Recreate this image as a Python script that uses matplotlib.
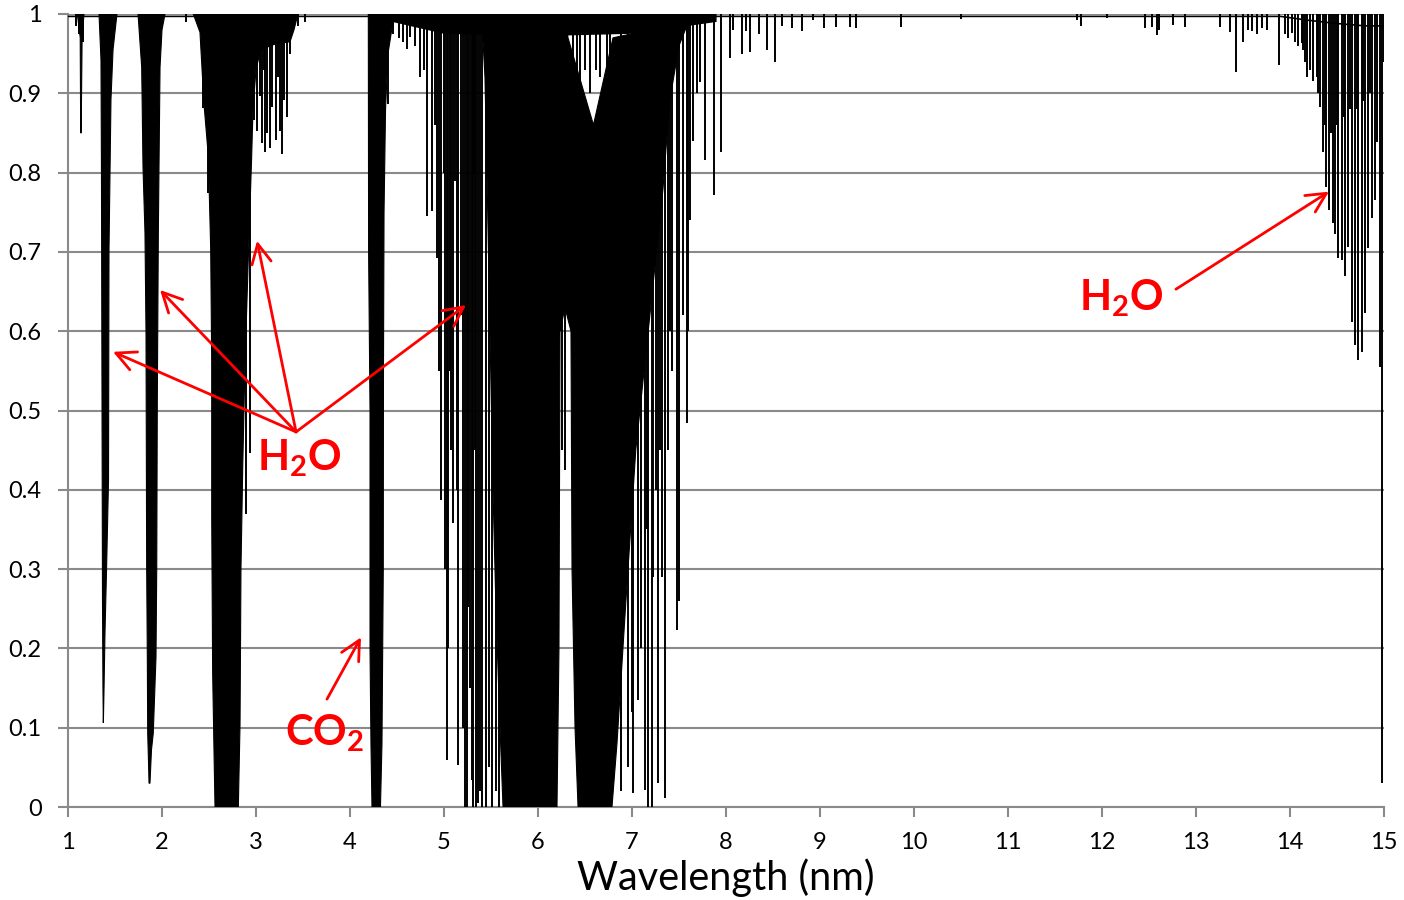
"""Atmospheric transmission spectrum 1-15 um with H2O / CO2 absorption bands."""
import matplotlib
matplotlib.use("Agg")
import matplotlib.pyplot as plt

# --- broad, saturated bands (outline vertices: wavelength, transmission) ---
h2o_11_x = [1.10, 1.13, 1.135, 1.14, 1.15, 1.17]
h2o_11_y = [1.00, 0.97, 0.85, 0.85, 0.97, 1.00]

h2o_14_x = [1.330, 1.351, 1.356, 1.367, 1.372, 1.376, 1.383, 1.394, 1.410,
            1.431, 1.436, 1.457, 1.479, 1.521]
h2o_14_y = [1.000, 0.942, 0.803, 0.261, 0.148, 0.106, 0.148, 0.223, 0.299,
            0.412, 0.702, 0.892, 0.955, 1.000]

h2o_19_x = [1.745, 1.784, 1.798, 1.819, 1.830, 1.837, 1.844, 1.848, 1.856, 1.862,
            1.872, 1.888, 1.907, 1.936, 1.944, 1.950, 1.961, 1.968, 1.979, 2.000, 2.032]
h2o_19_y = [1.000, 0.933, 0.807, 0.724, 0.598, 0.303, 0.189, 0.093, 0.059, 0.030,
            0.030, 0.072, 0.093, 0.189, 0.303, 0.513, 0.724, 0.807, 0.933, 0.980, 1.000]

h2o_27_x = [2.333, 2.404, 2.447, 2.493, 2.518, 2.529, 2.529, 2.539, 2.556, 2.564,
            2.812, 2.830, 2.840, 2.859, 2.883, 2.918, 2.954, 2.968, 3.000, 3.050,
            3.202, 3.362, 3.404, 3.446]
h2o_27_y = [1.000, 0.977, 0.886, 0.821, 0.704, 0.560, 0.365, 0.169, 0.052, 0.000,
            0.000, 0.104, 0.300, 0.430, 0.560, 0.691, 0.821, 0.880, 0.930, 0.955,
            0.962, 0.965, 0.980, 1.000]

co2_43_x = [4.195, 4.198, 4.213, 4.213, 4.223, 4.234, 4.324, 4.340, 4.354,
            4.356, 4.362, 4.378, 4.404, 4.457, 4.511]
co2_43_y = [1.000, 0.700, 0.500, 0.200, 0.080, 0.000, 0.000, 0.080, 0.300,
            0.550, 0.750, 0.880, 0.950, 0.990, 1.000]

# dense core of the 6.3 um water band
h2o_63_x = [5.404, 5.436, 5.457, 5.489, 5.521, 5.553, 5.596, 5.628, 6.202, 6.223,
            6.234, 6.287, 6.351, 6.362, 6.394, 6.426, 6.787, 6.840, 6.930, 7.040,
            7.190, 7.330, 7.400, 7.500, 7.600, 6.798, 6.590, 6.319, 6.298]
h2o_63_y = [0.990, 0.920, 0.800, 0.600, 0.400, 0.250, 0.100, 0.000, 0.000, 0.200,
            0.600, 0.630, 0.600, 0.300, 0.100, 0.000, 0.000, 0.080, 0.250, 0.450,
            0.620, 0.780, 0.890, 0.960, 0.990, 0.970, 0.860, 0.970, 0.990]

# dark fringe of weak lines along the top of the 6.3 um band
fringe_x = [4.45, 5.0, 6.0, 7.0, 7.9, 7.9, 4.45]
fringe_y = [0.990, 0.975, 0.972, 0.975, 0.990, 1.0, 1.0]

# --- individual absorption lines: position and minimum transmission ---
line_x = [
    1.08, 1.12, 1.16, 1.50, 2.26,
    2.439, 2.492, 2.940, 2.890,
    2.982, 3.007, 3.043, 3.061, 3.085, 3.096, 3.121, 3.149, 3.174, 3.213,
    3.238, 3.255, 3.280, 3.301, 3.327, 3.362, 3.45, 3.52,
    4.408, 4.46, 4.52, 4.56, 4.603,
    4.64, 4.69, 4.74, 4.79, 4.82, 4.87, 4.90, 4.93, 4.95, 4.968, 5.00, 5.01,
    5.032, 5.045, 5.06, 5.075, 5.093, 5.12, 5.135, 5.152, 5.18, 5.20, 5.223,
    5.24, 5.259, 5.275, 5.294, 5.31, 5.32, 5.335, 5.345, 5.365, 5.38, 5.404,
    5.45, 5.48, 5.51, 5.55, 5.58,
    6.245, 6.26, 6.287, 6.31,
    6.37, 6.41, 6.45, 6.50, 6.55, 6.62, 6.66, 6.73, 6.77,
    6.88, 6.96, 7.00, 7.014, 7.067, 7.10, 7.138, 7.16, 7.174, 7.209, 7.227,
    7.25, 7.280, 7.30, 7.316, 7.351, 7.383, 7.40,
    7.43, 7.475, 7.50, 7.545, 7.588, 7.60, 7.617, 7.65, 7.69, 7.723,
    7.777, 7.872, 7.943, 8.043, 8.078, 8.167, 8.213, 8.255, 8.354, 8.433,
    8.521, 8.592, 8.699, 8.805, 8.929, 9.043, 9.170, 9.319, 9.383, 9.862,
    10.50, 11.73, 11.78, 12.05, 12.46, 12.53, 12.58, 12.61, 12.75, 12.88,
    13.255, 13.36, 13.43, 13.50, 13.55, 13.60, 13.65, 13.70, 13.76,
    13.887, 13.95, 13.98, 14.018, 14.05, 14.08, 14.125, 14.14, 14.16,
    14.178, 14.213, 14.248, 14.283, 14.30, 14.319, 14.354, 14.37, 14.383,
    14.418, 14.44, 14.454, 14.483, 14.50, 14.514, 14.550, 14.57, 14.585,
    14.62, 14.64, 14.656, 14.691, 14.71, 14.727, 14.763, 14.78, 14.798,
    14.834, 14.85, 14.869, 14.904, 14.929, 14.955, 14.98, 15.0,
]
line_y = [
    0.985, 0.975, 0.965, 0.990, 0.990,
    0.882, 0.774, 0.446, 0.370,
    0.866, 0.852, 0.896, 0.837, 0.929, 0.826, 0.850, 0.831, 0.883, 0.841,
    0.921, 0.853, 0.824, 0.892, 0.870, 0.950, 0.985, 0.990,
    0.887, 0.975, 0.970, 0.965, 0.956,
    0.971, 0.960, 0.921, 0.930, 0.745, 0.752, 0.860, 0.692, 0.550, 0.387, 0.800, 0.300,
    0.059, 0.200, 0.550, 0.450, 0.358, 0.790, 0.400, 0.053, 0.620, 0.100, 0.000,
    0.000, 0.252, 0.150, 0.034, 0.000, 0.800, 0.450, 0.000, 0.005, 0.020, 0.000,
    0.000, 0.050, 0.000, 0.020, 0.000,
    0.600, 0.450, 0.425, 0.700,
    0.886, 0.900, 0.870, 0.930, 0.900, 0.930, 0.920, 0.890, 0.940,
    0.020, 0.050, 0.120, 0.018, 0.135, 0.200, 0.021, 0.350, 0.000, 0.000, 0.290,
    0.400, 0.030, 0.450, 0.290, 0.011, 0.450, 0.600,
    0.550, 0.223, 0.260, 0.620, 0.484, 0.600, 0.740, 0.840, 0.900, 0.914,
    0.816, 0.772, 0.826, 0.944, 0.980, 0.950, 0.978, 0.952, 0.975, 0.955,
    0.940, 0.985, 0.982, 0.978, 0.992, 0.982, 0.983, 0.984, 0.982, 0.984,
    0.994, 0.993, 0.985, 0.995, 0.982, 0.984, 0.974, 0.980, 0.986, 0.984,
    0.984, 0.977, 0.927, 0.965, 0.980, 0.978, 0.975, 0.982, 0.980,
    0.936, 0.975, 0.970, 0.976, 0.965, 0.960, 0.963, 0.955, 0.940,
    0.921, 0.929, 0.915, 0.921, 0.900, 0.883, 0.826, 0.860, 0.782,
    0.753, 0.850, 0.736, 0.723, 0.860, 0.692, 0.690, 0.870, 0.669,
    0.706, 0.880, 0.612, 0.583, 0.880, 0.564, 0.574, 0.890, 0.623,
    0.705, 0.900, 0.743, 0.765, 0.839, 0.555, 0.030, 0.940,
]

# top of the spectrum (continuum)
cont_x = [1.0, 13.9, 14.2, 14.5, 14.8, 15.0]
cont_y = [0.997, 0.997, 0.992, 0.988, 0.985, 0.985]

xticks = list(range(1, 16))
yticks = [0, 0.1, 0.2, 0.3, 0.4, 0.5, 0.6, 0.7, 0.8, 0.9, 1.0]
ytick_labels = ["0", "0.1", "0.2", "0.3", "0.4", "0.5", "0.6", "0.7", "0.8", "0.9", "1"]

# annotation anchors (data coords)
h2o_left_label = (3.457, 0.440)
h2o_left_origin = (3.426, 0.473)
h2o_left_targets = [(1.479, 0.574), (1.979, 0.652), (3.011, 0.714), (5.234, 0.633)]
h2o_right_label = (12.20, 0.642)
h2o_right_arrow = [(12.787, 0.653), (14.415, 0.776)]
co2_label = (3.734, 0.093)
co2_arrow = [(3.755, 0.136), (4.117, 0.214)]

plt.rcParams["font.family"] = ["Lato", "DejaVu Sans"]
plt.rcParams["mathtext.fontset"] = "custom"
plt.rcParams["mathtext.rm"] = "Lato:bold"
plt.rcParams["mathtext.bf"] = "Lato:bold"
plt.rcParams["mathtext.it"] = "Lato:bold"

fig = plt.figure(figsize=(14.04, 9.0), dpi=100)
ax = fig.add_axes([68 / 1404, 93 / 900, 1316 / 1404, 793 / 900])

grid_c = "#8a8a8a"
for y in yticks:
    ax.axhline(y, color=grid_c, lw=1.5, zorder=0)

ax.plot(cont_x, cont_y, color="k", lw=1.2, zorder=2)
ax.fill(fringe_x, fringe_y, color="k", lw=0, zorder=2)
for bx, by in [(h2o_11_x, h2o_11_y), (h2o_14_x, h2o_14_y), (h2o_19_x, h2o_19_y),
               (h2o_27_x, h2o_27_y), (co2_43_x, co2_43_y), (h2o_63_x, h2o_63_y)]:
    ax.fill(bx, by, color="k", lw=0.8, ec="k", zorder=2)
ax.vlines(line_x, line_y, 1.0, color="k", lw=1.4, zorder=2)

ax.set_xlim(1, 15)
ax.set_ylim(0, 1)
ax.set_xticks(xticks)
ax.set_yticks(yticks)
ax.set_yticklabels(ytick_labels)
ax.tick_params(axis="both", colors=grid_c, labelcolor="k", labelsize=17,
               width=1.5, length=7, direction="out")
ax.tick_params(axis="x", pad=11)
ax.tick_params(axis="y", pad=12)
for s in ["top", "right"]:
    ax.spines[s].set_visible(False)
for s in ["left", "bottom"]:
    ax.spines[s].set_color(grid_c)
    ax.spines[s].set_linewidth(1.5)
    ax.spines[s].set_zorder(1)

ax.set_xlabel("Wavelength (nm)", fontsize=28.5, labelpad=4)

red = "#ff0000"
arrow_kw = dict(arrowstyle="->,head_length=0.7,head_width=0.35", color=red, lw=2,
                mutation_scale=20, shrinkA=0, shrinkB=0)
for tgt in h2o_left_targets:
    ax.annotate("", xy=tgt, xytext=h2o_left_origin, arrowprops=arrow_kw, zorder=5)
ax.annotate("", xy=h2o_right_arrow[1], xytext=h2o_right_arrow[0], arrowprops=arrow_kw)
ax.annotate("", xy=co2_arrow[1], xytext=co2_arrow[0], arrowprops=arrow_kw)

lab_kw = dict(color=red, fontsize=30, ha="center", va="center", zorder=6)
ax.text(*h2o_left_label, r"$\mathrm{H_2O}$", **lab_kw)
ax.text(*h2o_right_label, r"$\mathrm{H_2O}$", **lab_kw)
ax.text(*co2_label, r"$\mathrm{CO_2}$", **lab_kw)

fig.savefig("out.png", dpi=100)
